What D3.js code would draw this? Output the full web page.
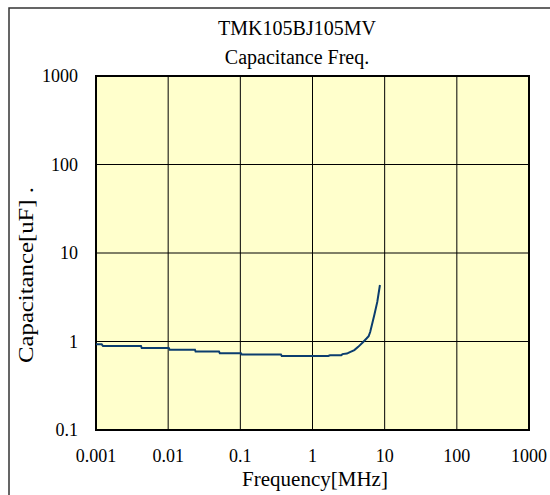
<!DOCTYPE html>
<html>
<head>
<meta charset="utf-8">
<script src="https://cdn.jsdelivr.net/npm/d3@7"></script>
<style>
  body { margin: 0; background: #fff; }
  text { font-family: "Liberation Serif", "Times New Roman", serif; fill: #000; }
</style>
</head>
<body>
<div id="chart"></div>
<script>
// frequency [MHz] and capacitance [uF]
var freq = [0.001, 0.0012, 0.00125, 0.0042, 0.0043, 0.0102, 0.0105, 0.0235, 0.024, 0.0506, 0.052,
            0.102, 0.105, 0.365, 0.375, 1.65, 1.75, 2.5, 2.6, 3.0, 3.3, 3.8, 4.3, 5.0, 5.6, 6.0,
            6.3, 6.6, 7.2, 7.9, 8.6];
var cap = [0.93, 0.93, 0.89, 0.89, 0.845, 0.845, 0.808, 0.808, 0.77, 0.77, 0.736,
           0.736, 0.713, 0.713, 0.686, 0.686, 0.70, 0.70, 0.72, 0.73, 0.76, 0.80, 0.87, 0.98, 1.08, 1.15,
           1.28, 1.5, 2.0, 2.8, 4.35];
var xTicks = [0.001, 0.01, 0.1, 1, 10, 100, 1000];
var yTicks = [0.1, 1, 10, 100, 1000];
var xTickLabels = ["0.001", "0.01", "0.1", "1", "10", "100", "1000"];
var yTickLabels = ["0.1", "1", "10", "100", "1000"];

var W = 550, H = 495;
var margin = {top: 76, right: 21, bottom: 65, left: 96};

var svg = d3.select("#chart").append("svg")
    .attr("width", W).attr("height", H);

// outer chart frame
svg.append("rect")
    .attr("x", 9).attr("y", 8)
    .attr("width", 600).attr("height", 600)
    .attr("fill", "#fff")
    .attr("stroke", "#333").attr("stroke-width", 1.5);

var x = d3.scaleLog().domain([0.001, 1000]).range([margin.left, W - margin.right]);
var y = d3.scaleLog().domain([0.1, 1000]).range([H - margin.bottom, margin.top]);

svg.append("rect")
    .attr("x", x(0.001)).attr("y", y(1000))
    .attr("width", x(1000) - x(0.001)).attr("height", y(0.1) - y(1000))
    .attr("fill", "#ffffcc");

// grid
svg.selectAll(".vgrid").data(xTicks).enter().append("line")
    .attr("x1", d => x(d)).attr("x2", d => x(d))
    .attr("y1", y(1000)).attr("y2", y(0.1))
    .attr("stroke", "#000").attr("stroke-width", 1);
svg.selectAll(".hgrid").data(yTicks).enter().append("line")
    .attr("y1", d => y(d)).attr("y2", d => y(d))
    .attr("x1", x(0.001)).attr("x2", x(1000))
    .attr("stroke", "#000").attr("stroke-width", 1);

svg.append("rect")
    .attr("x", x(0.001)).attr("y", y(1000))
    .attr("width", x(1000) - x(0.001)).attr("height", y(0.1) - y(1000))
    .attr("fill", "none").attr("stroke", "#000").attr("stroke-width", 2);

// tick labels
svg.selectAll(".xl").data(xTicks).enter().append("text")
    .attr("x", d => x(d)).attr("y", 462)
    .attr("text-anchor", "middle").attr("font-size", 18)
    .text((d, i) => xTickLabels[i]);
svg.selectAll(".yl").data(yTicks).enter().append("text")
    .attr("x", 78).attr("y", d => y(d) + 6)
    .attr("text-anchor", "end").attr("font-size", 18)
    .text((d, i) => yTickLabels[i]);

// curve
var line = d3.line().x((d, i) => x(freq[i])).y((d, i) => y(cap[i]));
svg.append("path")
    .datum(cap)
    .attr("d", line)
    .attr("fill", "none")
    .attr("stroke", "#0b3d6e").attr("stroke-width", 2);

// titles
svg.append("text").attr("x", 297).attr("y", 35)
    .attr("text-anchor", "middle").attr("font-size", 20).text("TMK105BJ105MV");
svg.append("text").attr("x", 297).attr("y", 64)
    .attr("text-anchor", "middle").attr("font-size", 20).text("Capacitance Freq.");
svg.append("text").attr("x", 315).attr("y", 486)
    .attr("text-anchor", "middle").attr("font-size", 21).text("Frequency[MHz]");
svg.append("text")
    .attr("transform", "translate(33,275) rotate(-90)")
    .attr("text-anchor", "middle").attr("font-size", 21)
    .attr("textLength", 176).attr("lengthAdjust", "spacingAndGlyphs")
    .text("Capacitance[uF] .");
</script>
</body>
</html>
